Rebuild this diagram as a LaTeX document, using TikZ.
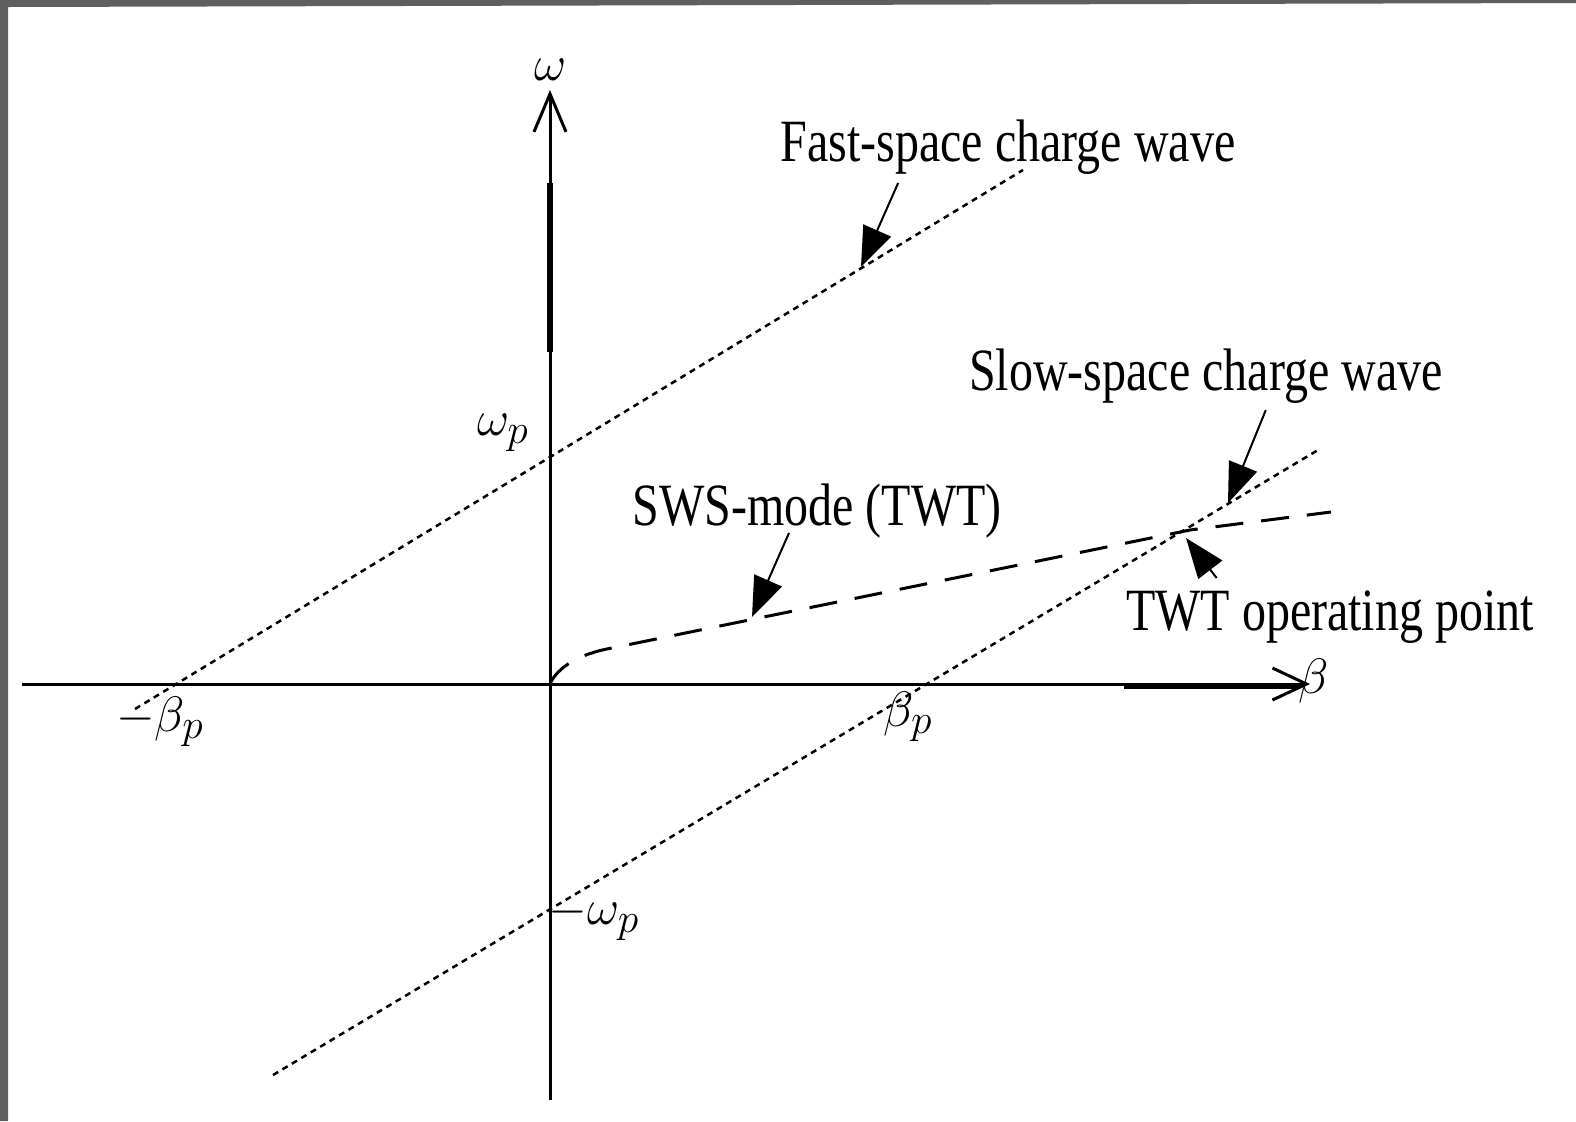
\documentclass[tikz,border=0pt]{standalone}
\usepackage{fontspec}
\setmainfont{Liberation Serif}
\usepackage{graphicx}
\usetikzlibrary{arrows.meta}
\definecolor{Frame}{HTML}{5F5F5F}

\begin{document}
\begin{tikzpicture}[x=0.5pt,y=-0.5pt,
  axis/.style={line width=1.5pt},
  axisbold/.style={line width=3pt},
  chargewave/.style={line width=1.25pt, dash pattern=on 3pt off 2.5pt},
  swsmode/.style={line width=1.5pt, dash pattern=on 14pt off 9pt},
  pointer/.style={line width=1pt, -{Triangle[length=20pt,width=15pt]}},
  caption/.style={font=\fontsize{30}{36}\selectfont, inner sep=0pt, anchor=base},
  mathlbl/.style={font=\fontsize{28}{34}\selectfont, inner sep=0pt}]
\useasboundingbox (0,0) rectangle (1576,1121);
\fill[white] (0,0) rectangle (1576,1121);
\fill[Frame] (0,0) -- (1576,0) -- (1576,3) -- (8,7) -- (8,1121) -- (0,1121) -- cycle;
% axes
\coordinate (O) at (550,684);
\coordinate (ybot) at (550,1100);
\coordinate (ytop) at (550,90);
\coordinate (xleft) at (22,684);
\coordinate (xtip) at (1310,684);
\draw[axis, -{Straight Barb[length=19pt,width=16pt]}] (ybot) -- (ytop);
\draw[axis, -{Straight Barb[length=17pt,width=16pt]}] (xleft) -- (xtip);
\draw[axisbold] (550,183) -- (550,352);
\draw[axisbold] (1124,686) -- (1300,686);
\node[mathlbl] (omega) at (551,70) {$\omega$};
\node[mathlbl] (beta) at (1314,681) {$\beta$};
% space charge waves
\coordinate (fastlo) at (135,709);
\coordinate (fasthi) at (1023,170);
\coordinate (slowlo) at (273,1075);
\coordinate (slowhi) at (1318,450);
\draw[chargewave] (fastlo) -- (fasthi);
\draw[chargewave] (slowlo) -- (slowhi);
\node[mathlbl] (omegap) at (503,433) {$\omega_p$};
\node[mathlbl] (mbetap) at (160,722) {$-\beta_p$};
\node[mathlbl] (betap) at (908,717) {$\beta_p$};
\node[mathlbl] (momegap) at (594,918) {$-\omega_p$};
% SWS mode
\coordinate (optpt) at (1190,530);
\coordinate (swsend) at (1331,512);
\draw[swsmode] (O) .. controls (557,668) and (578,654) .. (612,648) -- (optpt) -- (swsend);
% labels and pointers
\node[caption] (fastlbl) at (1008,161) {\scalebox{0.8}[1]{Fast-space charge wave}};
\node[caption] (slowlbl) at (1206,390) {\scalebox{0.8}[1]{Slow-space charge wave}};
\node[caption] (swslbl) at (817,525) {\scalebox{0.8}[1]{SWS-mode (TWT)}};
\node[caption] (twtlbl) at (1330,630) {\scalebox{0.8}[1]{TWT operating point}};
\coordinate (fasttip) at (861,267);
\coordinate (slowtip) at (1228,503);
\coordinate (swstip) at (752,617);
\coordinate (twttip) at (1186,538);
\draw[pointer] ([xshift=59pt,yshift=-11pt]fastlbl.base west) -- (fasttip);
\draw[pointer] ([xshift=148.5pt,yshift=-10pt]slowlbl.base west) -- (slowtip);
\draw[pointer] ([xshift=78.5pt,yshift=-4pt]swslbl.base west) -- (swstip);
\draw[pointer] ([xshift=45.5pt,yshift=26pt]twtlbl.base west) -- (twttip);
\end{tikzpicture}
\end{document}
